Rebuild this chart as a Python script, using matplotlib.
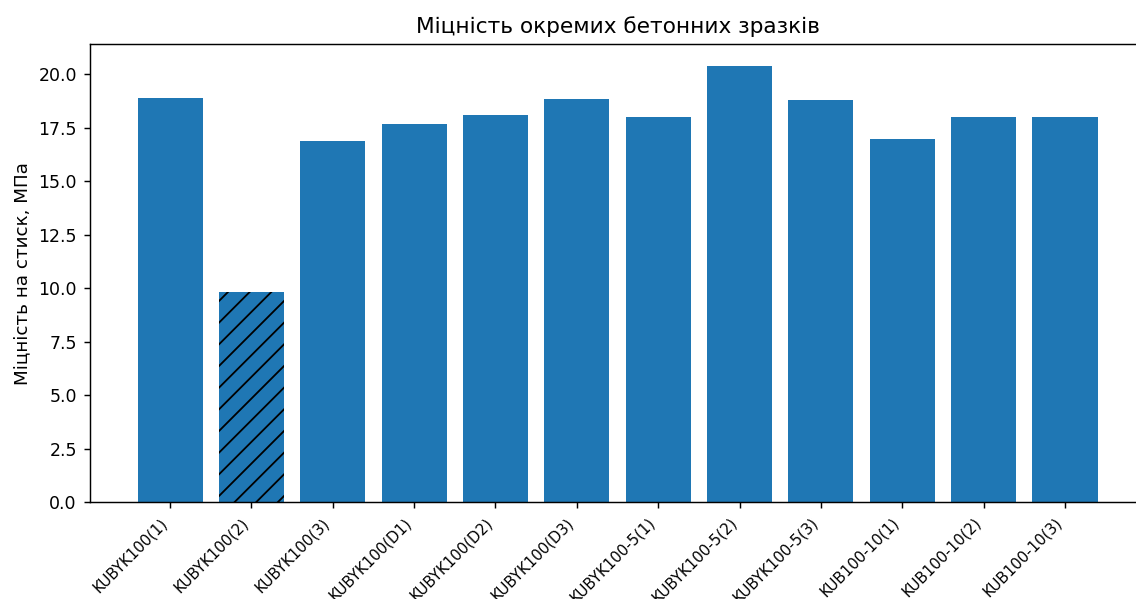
import matplotlib
matplotlib.use("Agg")
import matplotlib.pyplot as plt

# compressive strength of individual concrete specimens
samples = ["KUBYK100(1)", "KUBYK100(2)", "KUBYK100(3)", "KUBYK100(D1)",
           "KUBYK100(D2)", "KUBYK100(D3)", "KUBYK100-5(1)", "KUBYK100-5(2)",
           "KUBYK100-5(3)", "KUB100-10(1)", "KUB100-10(2)", "KUB100-10(3)"]
strength = [18.9, 9.85, 16.9, 17.7, 18.1, 18.85, 18.0, 20.4, 18.8, 17.0, 18.0, 18.0]
outlier = 1  # rejected specimen, drawn hatched

dpi = 130
fig = plt.figure(figsize=(1136 / dpi, 599 / dpi), dpi=dpi)
ax = fig.add_axes([89.5 / 1136, (599 - 502.3) / 599,
                   (1145.5 - 89.5) / 1136, (502.3 - 44) / 599])

bars = ax.bar(samples, strength, color="#1f77b4")
bars[outlier].set_hatch("//")

ax.set_title("Міцність окремих бетонних зразків", fontsize=12)
ax.set_ylabel("Міцність на стиск, МПа", fontsize=10.2)
ax.tick_params(axis="y", labelsize=9.6)
plt.setp(ax.get_xticklabels(), rotation=45, ha="right", fontsize=8.3)

fig.savefig("out.png", dpi=dpi)
